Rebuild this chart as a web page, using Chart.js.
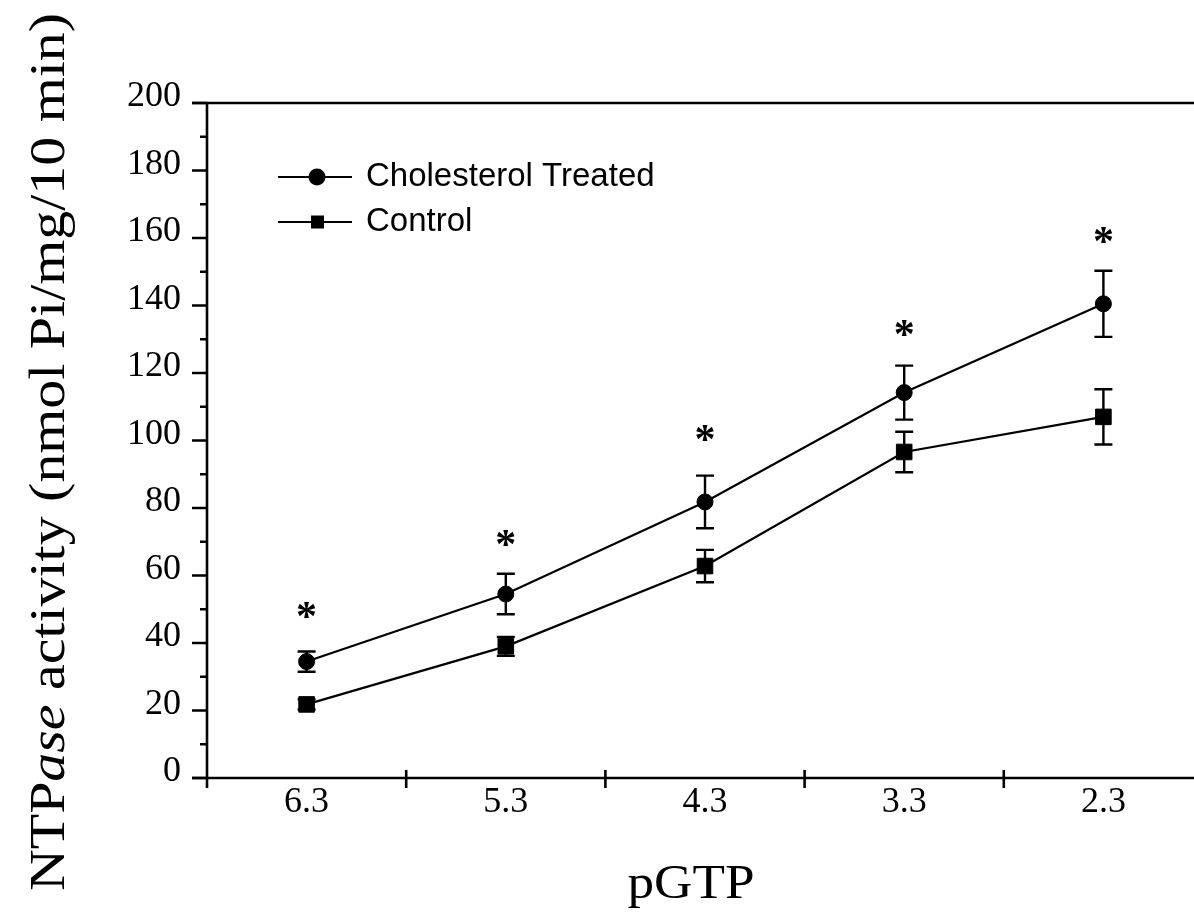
<!DOCTYPE html>
<html>
<head>
<meta charset="utf-8">
<script src="https://cdn.jsdelivr.net/npm/chart.js@4.4.0/dist/chart.umd.min.js"></script>
<style>
html, body { margin: 0; padding: 0; background: #fff; overflow: hidden; width: 1194px; height: 915px; }
#wrap { position: absolute; left: 0; top: 0; width: 1194px; height: 915px; overflow: hidden; }
</style>
</head>
<body>
<!-- canvas is a little wider than the page: the plot frame runs past the right edge -->
<div id="wrap"><canvas id="chart" width="1215" height="915"></canvas></div>
<script>
// DATA
const categories = ["6.3", "5.3", "4.3", "3.3", "2.3"];
const cholesterol = [34.5, 54.5, 81.8, 114.2, 140.5];
const cholesterolErr = [3, 6, 7.8, 8, 9.8];
const control = [21.8, 39, 62.8, 96.6, 107];
const controlErr = [1.5, 2.8, 4.8, 6, 8.2];
const starY = [49.8, 71.1, 102.2, 133.3, 160.9];   // where the * marks sit
const yTickLabels = [0, 20, 40, 60, 80, 100, 120, 140, 160, 180, 200];

const SERIF = "'Liberation Serif', 'Times New Roman', serif";
const SANS = "'Liberation Sans', Arial, sans-serif";

// AXES, ERROR BARS, STARS, LEGEND, TITLES
const decor = {
    id: "decor",
    beforeDatasetsDraw(chart) {
        const ctx = chart.ctx;
        const y = chart.scales.y;
        const x = chart.scales.x;
        ctx.save();
        ctx.strokeStyle = "#000";
        ctx.lineWidth = 2.4;
        [[cholesterol, cholesterolErr], [control, controlErr]].forEach(([vals, errs]) => {
            vals.forEach((v, i) => {
                const px = x.getPixelForValue(i);
                const top = y.getPixelForValue(v + errs[i]);
                const bot = y.getPixelForValue(v - errs[i]);
                ctx.beginPath();
                ctx.moveTo(px, top); ctx.lineTo(px, bot);
                ctx.moveTo(px - 9, top); ctx.lineTo(px + 9, top);
                ctx.moveTo(px - 9, bot); ctx.lineTo(px + 9, bot);
                ctx.stroke();
            });
        });
        ctx.restore();
    },
    afterDraw(chart) {
        const ctx = chart.ctx;
        const y = chart.scales.y;
        const x = chart.scales.x;
        const area = chart.chartArea;
        ctx.save();
        ctx.strokeStyle = "#000";
        ctx.fillStyle = "#000";
        ctx.lineWidth = 2.6;

        // frame lines (right side falls outside the picture)
        ctx.beginPath();
        ctx.moveTo(area.left, area.top); ctx.lineTo(area.left, area.bottom + 10);
        ctx.moveTo(area.left - 15, area.bottom); ctx.lineTo(chart.width, area.bottom);
        ctx.moveTo(area.left - 15, area.top); ctx.lineTo(chart.width, area.top);
        ctx.stroke();

        // y ticks, major every 20, minor every 10
        ctx.beginPath();
        for (let v = 0; v <= 200; v += 10) {
            const py = y.getPixelForValue(v);
            const len = v % 20 === 0 ? 15 : 7;
            ctx.moveTo(area.left - len, py); ctx.lineTo(area.left, py);
        }
        // x ticks between categories
        for (let i = 0; i < categories.length - 1; i++) {
            const px = (x.getPixelForValue(i) + x.getPixelForValue(i + 1)) / 2;
            ctx.moveTo(px, area.bottom - 8); ctx.lineTo(px, area.bottom + 10);
        }
        ctx.stroke();

        // significance stars
        ctx.font = "bold 42px " + SERIF;
        ctx.textAlign = "center";
        ctx.textBaseline = "alphabetic";
        const m = ctx.measureText("*");
        const shift = (m.actualBoundingBoxAscent - m.actualBoundingBoxDescent) / 2;
        starY.forEach((v, i) => {
            ctx.fillText("*", x.getPixelForValue(i), y.getPixelForValue(v) + shift);
        });

        // legend
        const rows = [["Cholesterol Treated", "circle", 177], ["Control", "rect", 222]];
        ctx.lineWidth = 2;
        rows.forEach(([label, shape, ly]) => {
            ctx.beginPath();
            ctx.moveTo(278, ly); ctx.lineTo(352, ly);
            ctx.stroke();
            ctx.beginPath();
            if (shape === "circle") ctx.arc(317, ly, 8.5, 0, Math.PI * 2);
            else ctx.rect(311, ly - 6.5, 13, 13);
            ctx.fill();
            ctx.font = "33px " + SANS;
            ctx.textAlign = "left";
            ctx.textBaseline = "middle";
            ctx.fillText(label, 366, ly);
        });

        // y title with italic "ase"
        const parts = [["NTP", false], ["ase", true], [" activity (nmol Pi/mg/10 min)", false]];
        const size = 50;
        let w = 0;
        parts.forEach(p => {
            ctx.font = (p[1] ? "italic " : "") + size + "px " + SERIF;
            w += ctx.measureText(p[0]).width;
        });
        ctx.save();
        ctx.translate(64, 452);
        ctx.rotate(-Math.PI / 2);
        ctx.scale(878 / w, 1);
        ctx.textAlign = "left";
        ctx.textBaseline = "alphabetic";
        let tx = -w / 2;
        parts.forEach(p => {
            ctx.font = (p[1] ? "italic " : "") + size + "px " + SERIF;
            ctx.fillText(p[0], tx, 0);
            tx += ctx.measureText(p[0]).width;
        });
        ctx.restore();

        // x title
        ctx.save();
        ctx.font = "48px " + SERIF;
        const xw = ctx.measureText("pGTP").width;
        ctx.translate(691, 898);
        ctx.scale(127 / xw, 1);
        ctx.textAlign = "center";
        ctx.textBaseline = "alphabetic";
        ctx.fillText("pGTP", 0, 0);
        ctx.restore();

        ctx.restore();
    }
};

const chart = new Chart(document.getElementById("chart"), {
    type: "line",
    data: {
        labels: categories,
        datasets: [
            {
                label: "Cholesterol Treated",
                data: cholesterol,
                borderColor: "#000",
                borderWidth: 2.2,
                pointStyle: "circle",
                pointRadius: 8,
                pointBorderWidth: 1,
                pointBackgroundColor: "#000",
                pointBorderColor: "#000",
                tension: 0
            },
            {
                label: "Control",
                data: control,
                borderColor: "#000",
                borderWidth: 2.2,
                pointStyle: "rect",
                pointRadius: 11,
                pointBorderWidth: 1,
                pointBackgroundColor: "#000",
                pointBorderColor: "#000",
                tension: 0
            }
        ]
    },
    options: {
        responsive: false,
        animation: false,
        devicePixelRatio: 1,
        layout: { padding: { left: 0, top: 103, right: 1, bottom: 0 } },
        plugins: {
            legend: { display: false },
            tooltip: { enabled: false }
        },
        scales: {
            x: {
                type: "category",
                offset: true,
                grid: { display: false, drawTicks: false },
                border: { display: false },
                ticks: {
                    color: "#000",
                    font: { family: SERIF, size: 36 },
                    padding: 3,
                    maxRotation: 0
                },
                afterFit(scale) { scale.height = 137; }
            },
            y: {
                min: 0,
                max: 200,
                grid: { display: false, drawTicks: false },
                border: { display: false },
                afterBuildTicks(scale) {
                    scale.ticks = yTickLabels.map(v => ({ value: v }));
                },
                ticks: {
                    color: "#000",
                    font: { family: SERIF, size: 36 },
                    padding: 26,
                    labelOffset: -6
                },
                afterFit(scale) { scale.width = 207; }
            }
        }
    },
    plugins: [decor]
});
</script>
</body>
</html>
